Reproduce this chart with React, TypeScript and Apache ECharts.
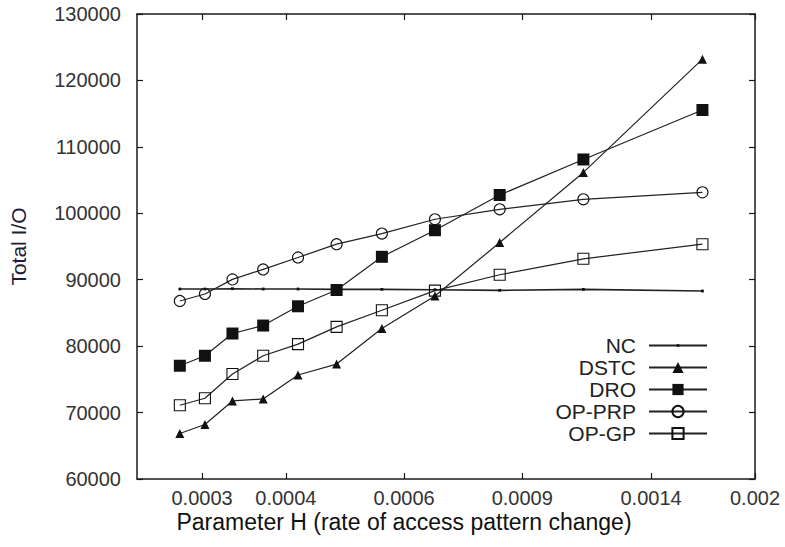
import React, { useEffect, useRef } from "react";
import * as echarts from "echarts";

// Parameter H values (x)
const xValues = [0.000278, 0.000303, 0.000333, 0.00037, 0.000417, 0.000476, 0.000556, 0.000667, 0.000833, 0.00111, 0.00167];
const seriesNames = ["NC", "DSTC", "DRO", "OP-PRP", "OP-GP"];
const ncValues = [88600, 88600, 88650, 88600, 88600, 88550, 88550, 88500, 88400, 88550, 88300];
const dstcValues = [66850, 68200, 71750, 72050, 75650, 77300, 82650, 87550, 95600, 106150, 123200];
const droValues = [77050, 78550, 81900, 83100, 86000, 88450, 93450, 97450, 102750, 108100, 115550];
const opPrpValues = [86800, 87850, 90050, 91550, 93350, 95350, 96950, 99100, 100600, 102100, 103150];
const opGpValues = [71100, 72150, 75800, 78550, 80300, 82900, 85400, 88350, 90750, 93150, 95350];

const xTicks = [0.0003, 0.0004, 0.0006, 0.0009, 0.0014, 0.002];
const xTickLabels = ["0.0003", "0.0004", "0.0006", "0.0009", "0.0014", "0.002"];
const xMin = 0.00024;
const xMax = 0.002;
const yMin = 60000;
const yMax = 130000;
const yInterval = 10000;

const xTitle = "Parameter H (rate of access pattern change)";
const yTitle = "Total I/O";

const FONT = '"Liberation Sans", Arial, sans-serif';
const INK = "#1a1a1a";
// small dot marker inside a larger invisible box, so that the legend icon stays small too
const DOT = "path://M0,0L0,0M12,12L12,12M4.6,4.6h2.8v2.8h-2.8Z";

export default function App() {
  const ref = useRef<HTMLDivElement>(null);

  useEffect(() => {
    if (!ref.current) return;
    const chart = echarts.init(ref.current, null, { renderer: "svg" });
    const lg = (v: number) => Math.log10(v);
    const tickPos = xTicks.map(lg);
    const toPairs = (vals: number[]) => vals.map((v, i) => [lg(xValues[i]), v]);

    const mk = (name: string, vals: number[], symbol: string, size: number, hollow: boolean, lw = 1.2) => ({
      name,
      type: "line",
      data: toPairs(vals),
      symbol,
      symbolSize: size,
      showSymbol: true,
      xAxisIndex: 0,
      yAxisIndex: 0,
      lineStyle: { color: "#222", width: lw },
      itemStyle: hollow
        ? { color: "rgba(255,255,255,0)", borderColor: "#111", borderWidth: 1.1 }
        : { color: "#111", borderWidth: 0 },
      emphasis: { disabled: true },
      z: 3,
    });

    const tickLabel = (v: number) => {
      let best = 0;
      let bd = Infinity;
      tickPos.forEach((p, i) => {
        const d = Math.abs(p - v);
        if (d < bd) {
          bd = d;
          best = i;
        }
      });
      return xTickLabels[best];
    };

    const axisLine = { show: true, onZero: false, lineStyle: { color: INK, width: 1.5 } };

    chart.setOption({
      animation: false,
      backgroundColor: "#ffffff",
      grid: { left: 137, right: 30, top: 14, bottom: 68, containLabel: false, outerBoundsMode: "none" },
      xAxis: [
        {
          type: "value",
          position: "bottom",
          min: lg(xMin),
          max: lg(xMax),
          axisLine,
          axisTick: { show: true, inside: true, length: 6, customValues: tickPos, lineStyle: { color: INK, width: 1.2 } },
          axisLabel: {
            show: true,
            customValues: tickPos,
            formatter: (v: number) => tickLabel(v),
            fontSize: 20,
            fontFamily: FONT,
            color: "#333",
            margin: 9,
          },
          splitLine: { show: false },
        },
        {
          type: "value",
          position: "top",
          min: lg(xMin),
          max: lg(xMax),
          axisLine,
          axisTick: { show: true, inside: true, length: 6, customValues: tickPos, lineStyle: { color: INK, width: 1.2 } },
          axisLabel: { show: false },
          splitLine: { show: false },
        },
      ],
      yAxis: [
        {
          type: "value",
          position: "left",
          min: yMin,
          max: yMax,
          interval: yInterval,
          name: yTitle,
          nameLocation: "middle",
          nameGap: 108,
          nameRotate: 90,
          nameTextStyle: { fontSize: 21, fontFamily: FONT, color: "#1e1a3a" },
          axisLine,
          axisTick: { show: true, inside: true, length: 6, lineStyle: { color: INK, width: 1.2 } },
          axisLabel: {
            fontSize: 20,
            fontFamily: FONT,
            color: "#333",
            margin: 16,
            formatter: (v: number) => String(v),
          },
          splitLine: { show: false },
        },
        {
          type: "value",
          position: "right",
          min: yMin,
          max: yMax,
          interval: yInterval,
          axisLine,
          axisTick: { show: true, inside: true, length: 6, lineStyle: { color: INK, width: 1.2 } },
          axisLabel: { show: false },
          splitLine: { show: false },
        },
      ],
      legend: {
        data: seriesNames,
        orient: "vertical",
        align: "right",
        right: 77,
        top: 335,
        padding: 0,
        itemWidth: 58,
        itemHeight: 14,
        itemGap: 1,
        selectedMode: false,
        textStyle: { fontSize: 21, lineHeight: 16, fontFamily: FONT, color: "#222", padding: [0, 8, 0, 0] },
      },
      graphic: [
        {
          type: "text",
          x: 404,
          y: 522,
          style: {
            text: xTitle,
            fontSize: 23,
            fontFamily: FONT,
            fill: "#111",
            textAlign: "center",
            textVerticalAlign: "middle",
          },
        },
      ],
      series: [
        mk(seriesNames[0], ncValues, DOT, 12, false, 1.6),
        mk(seriesNames[1], dstcValues, "triangle", 9, false),
        mk(seriesNames[2], droValues, "rect", 12, false),
        mk(seriesNames[3], opPrpValues, "circle", 11, true),
        mk(seriesNames[4], opGpValues, "rect", 11, true),
      ],
    });

    return () => chart.dispose();
  }, []);

  return (
    <div
      ref={ref}
      style={{ position: "fixed", left: 0, top: 0, width: 785, height: 547, background: "#fff" }}
    />
  );
}
